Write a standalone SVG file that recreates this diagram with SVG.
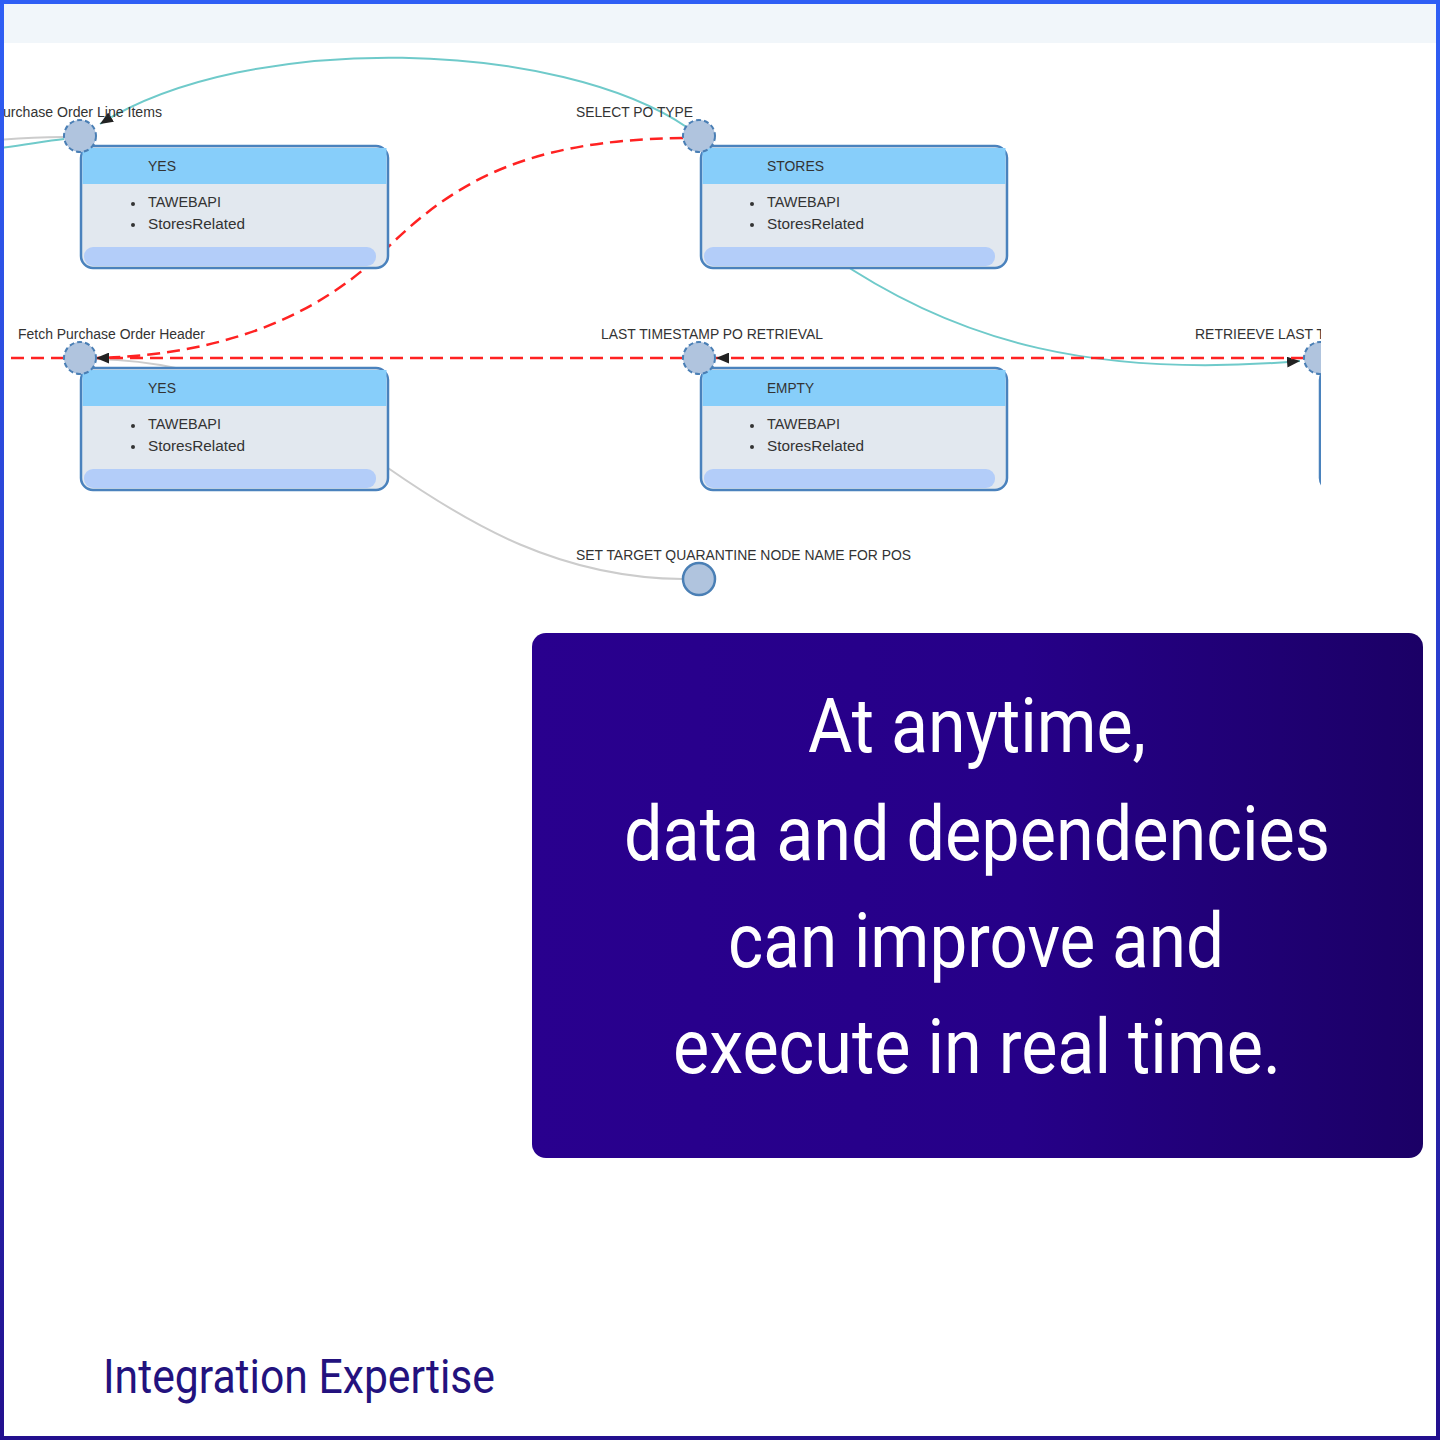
<svg xmlns="http://www.w3.org/2000/svg" width="1440" height="1440" viewBox="0 0 1440 1440">
<defs>
<linearGradient id="border" x1="0" y1="0" x2="0" y2="1">
<stop offset="0" stop-color="#2f5ff5"/>
<stop offset="0.45" stop-color="#2a3fd0"/>
<stop offset="1" stop-color="#23108e"/>
</linearGradient>
<linearGradient id="panel" x1="0" y1="0" x2="1" y2="0">
<stop offset="0" stop-color="#29008e"/>
<stop offset="0.55" stop-color="#260088"/>
<stop offset="1" stop-color="#1b0066"/>
</linearGradient>
<clipPath id="shot"><rect x="4" y="4" width="1317" height="616"/></clipPath>
<marker id="arr" viewBox="0 0 12 10" markerWidth="13" markerHeight="11" refX="12" refY="5" orient="auto" markerUnits="userSpaceOnUse">
<path d="M0,0 L12,5 L0,10 z" fill="#222"/>
</marker>
<style>
.node rect.box{fill:#e2e8ef;stroke:#4a82bd;stroke-width:2.5}
.hdr{fill:#87cefa}
.ftr{fill:#b3cdf9}
.port{fill:#b0c4de;stroke:#4a7fb5;stroke-width:2;stroke-dasharray:5 3}
.port2{fill:#b0c4de;stroke:#4a7fb5;stroke-width:2.5}
.t{font-family:"Liberation Sans",Arial,sans-serif;font-size:14px;fill:#333}
.lbl{font-family:"Liberation Sans",Arial,sans-serif;font-size:14px;fill:#333}
.dot{fill:#333}
.teal{fill:none;stroke:#6fcaca;stroke-width:2}
.red{fill:none;stroke:#ff2222;stroke-width:2.5;stroke-dasharray:13 7}
.gray{fill:none;stroke:#cccccc;stroke-width:2}
.big{font-family:Roboto,"Liberation Sans",sans-serif;font-size:76px;fill:#ffffff;text-anchor:middle}
</style>
</defs>
<rect width="1440" height="1440" fill="#ffffff"/>
<rect x="4" y="4" width="1432" height="39" fill="#f1f6fa"/>
<g clip-path="url(#shot)">
<g id="connectors">
<path class="gray" d="M0,140 C20,138 40,137 64,137"/>
<path class="teal" d="M0,148 C25,145 45,141 64,139"/>
<path class="teal" d="M688,128 C560,40 250,30 100,124" marker-end="url(#arr)"/>
<path class="teal" d="M830,255 C960,345 1100,378 1300,361" marker-end="url(#arr)"/>
<path class="gray" d="M97,359 C220,362 300,410 388,468 C470,525 560,578 683,579"/>
<path class="red" d="M683,138 C520,140 450,185 380,255 C300,330 200,355 98,358"/>
<path class="red" d="M1304,358 L716,358" marker-end="url(#arr)"/>
<path class="red" d="M683,358 L96,358" marker-end="url(#arr)"/>
<path class="red" d="M64,358 L0,358"/>
</g>
<g id="node-yes-1" class="node">
<rect class="box" x="81" y="146" width="307" height="122" rx="12"/>
<rect class="hdr" x="82.5" y="148" width="304" height="36"/>
<rect class="ftr" x="84" y="247" width="292" height="19" rx="9"/>
<text class="t" x="148" y="171">YES</text>
<circle class="dot" cx="133" cy="204" r="2"/>
<text class="t" x="148" y="207" textLength="73" lengthAdjust="spacingAndGlyphs">TAWEBAPI</text>
<circle class="dot" cx="133" cy="225" r="2"/>
<text class="t" x="148" y="229" textLength="97" lengthAdjust="spacingAndGlyphs">StoresRelated</text>
<circle class="port" cx="80" cy="136" r="16"/>
<text class="lbl" x="3" y="117" textLength="159" lengthAdjust="spacingAndGlyphs">urchase Order Line Items</text>
</g>
<g id="node-stores" class="node">
<rect class="box" x="701" y="146" width="306" height="122" rx="12"/>
<rect class="hdr" x="702.5" y="148" width="303" height="36"/>
<rect class="ftr" x="704" y="247" width="291" height="19" rx="9"/>
<text class="t" x="767" y="171" textLength="57" lengthAdjust="spacingAndGlyphs">STORES</text>
<circle class="dot" cx="752" cy="204" r="2"/>
<text class="t" x="767" y="207" textLength="73" lengthAdjust="spacingAndGlyphs">TAWEBAPI</text>
<circle class="dot" cx="752" cy="225" r="2"/>
<text class="t" x="767" y="229" textLength="97" lengthAdjust="spacingAndGlyphs">StoresRelated</text>
<circle class="port" cx="699" cy="136" r="16"/>
<text class="lbl" x="576" y="117" textLength="117" lengthAdjust="spacingAndGlyphs">SELECT PO TYPE</text>
</g>
<g id="node-yes-2" class="node">
<rect class="box" x="81" y="368" width="307" height="122" rx="12"/>
<rect class="hdr" x="82.5" y="370" width="304" height="36"/>
<rect class="ftr" x="84" y="469" width="292" height="19" rx="9"/>
<text class="t" x="148" y="393">YES</text>
<circle class="dot" cx="133" cy="426" r="2"/>
<text class="t" x="148" y="429" textLength="73" lengthAdjust="spacingAndGlyphs">TAWEBAPI</text>
<circle class="dot" cx="133" cy="447" r="2"/>
<text class="t" x="148" y="451" textLength="97" lengthAdjust="spacingAndGlyphs">StoresRelated</text>
<circle class="port" cx="80" cy="358" r="16"/>
<text class="lbl" x="18" y="339" textLength="187" lengthAdjust="spacingAndGlyphs">Fetch Purchase Order Header</text>
</g>
<g id="node-empty" class="node">
<rect class="box" x="701" y="368" width="306" height="122" rx="12"/>
<rect class="hdr" x="702.5" y="370" width="303" height="36"/>
<rect class="ftr" x="704" y="469" width="291" height="19" rx="9"/>
<text class="t" x="767" y="393" textLength="47" lengthAdjust="spacingAndGlyphs">EMPTY</text>
<circle class="dot" cx="752" cy="426" r="2"/>
<text class="t" x="767" y="429" textLength="73" lengthAdjust="spacingAndGlyphs">TAWEBAPI</text>
<circle class="dot" cx="752" cy="447" r="2"/>
<text class="t" x="767" y="451" textLength="97" lengthAdjust="spacingAndGlyphs">StoresRelated</text>
<circle class="port" cx="699" cy="358" r="16"/>
<text class="lbl" x="601" y="339" textLength="222" lengthAdjust="spacingAndGlyphs">LAST TIMESTAMP PO RETRIEVAL</text>
</g>
<g id="node-retrieve" class="node">
<rect class="box" x="1320" y="368" width="306" height="122" rx="12"/>
<circle class="port" cx="1320" cy="358" r="16"/>
<text class="lbl" x="1195" y="339" textLength="130" lengthAdjust="spacingAndGlyphs">RETRIEEVE LAST T</text>
</g>
<g id="node-set-target" class="node">
<circle class="port2" cx="699" cy="579" r="16"/>
<text class="lbl" x="576" y="560" textLength="335" lengthAdjust="spacingAndGlyphs">SET TARGET QUARANTINE NODE NAME FOR POS</text>
</g>
</g>
<g id="panel">
<rect x="532" y="633" width="891" height="525" rx="14" fill="url(#panel)"/>
<text class="big" x="977" y="752" textLength="338" lengthAdjust="spacingAndGlyphs">At anytime,</text>
<text class="big" x="977" y="860" textLength="706" lengthAdjust="spacingAndGlyphs">data and dependencies</text>
<text class="big" x="976" y="967" textLength="496" lengthAdjust="spacingAndGlyphs">can improve and</text>
<text class="big" x="977" y="1073" textLength="608" lengthAdjust="spacingAndGlyphs">execute in real time.</text>
</g>
<text id="footer" x="103" y="1393" font-family="Roboto,'Liberation Sans',sans-serif" font-size="48" fill="#23127e" textLength="392" lengthAdjust="spacingAndGlyphs">Integration Expertise</text>
<rect x="2" y="2" width="1436" height="1436" fill="none" stroke="url(#border)" stroke-width="4"/>
</svg>
